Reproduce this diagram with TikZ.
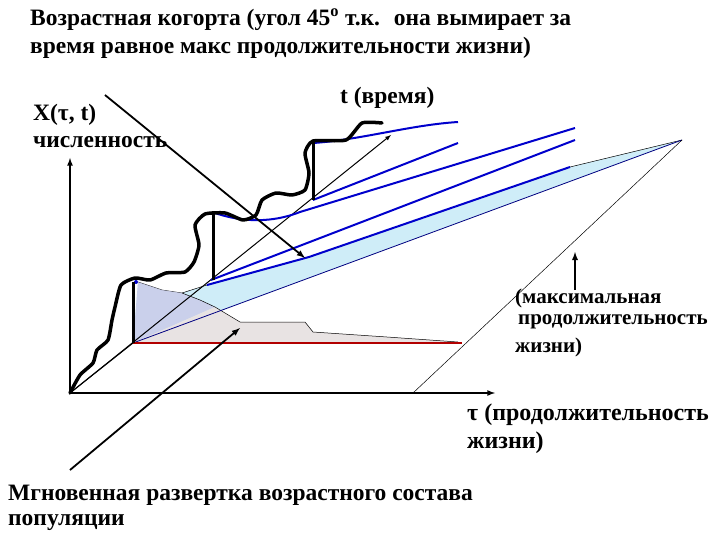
\documentclass[tikz,border=0pt]{standalone}
\usepackage{fontspec}
\setmainfont{Liberation Serif}
\begin{document}
\begin{tikzpicture}[x=1pt,y=-1pt,
  lbl/.style={font=\bfseries\fontsize{23.5}{26}\selectfont,anchor=west,inner sep=0pt},
  mid/.style={font=\bfseries\fontsize{21}{24}\selectfont,anchor=west,inner sep=0pt},
  big/.style={font=\bfseries\fontsize{24}{27}\selectfont,anchor=west,inner sep=0pt},
  ax/.style={line width=1.6pt,-latex},
  bl/.style={blue!80!black,line width=2pt}]
\useasboundingbox (0,0) rectangle (720,540);
\coordinate (O) at (70,393);
\coordinate (B) at (133,343);
\coordinate (T) at (682,140);
% light blue band
\fill[lightgray!30!cyan!25] (B) -- (138,282) -- (162,290) -- (182,293) -- (207,285) -- (309,257) -- (570,167) -- (T) -- cycle;
\draw[line width=0.5pt] (138,282) -- (162,290) -- (182,293) -- (207,285) -- (309,257) -- (570,167) -- (T);
% grey region
\fill[gray!60!blue!30,opacity=0.8] (B) -- (138,282) -- (162,290) -- (182,293) -- (200,300) -- (215,307) -- cycle;
% pink region
\fill[red!10!gray!20] (215,307) -- (240,322) -- (305,322) -- (313,332) -- (387,337) -- (458,342) -- (B) -- cycle;
\draw[line width=0.5pt] (182,293) -- (200,300) -- (215,307) -- (240,322) -- (305,322) -- (313,332) -- (387,337) -- (458,342);
\draw[line width=0.8pt,blue!50!black] (B) -- (T);
\draw[red!70!black,line width=2pt] (B) -- (462,343);
% skew line
\draw[line width=0.5pt] (413,393) -- (T);
% axes
\draw[ax] (O) -- (495,393);
\draw[ax] (O) -- (70,158);
\draw[line width=1pt,-latex] (O) -- (391,135);
\draw[line width=1pt] (O) -- (B);
% blue curves
\draw[bl] (313,143) .. controls (360,140) and (410,125) .. (458,122);
\draw[bl] (313,200) -- (458,143);
\draw[bl] (215,213) .. controls (250,225) and (280,220) .. (300,212) -- (575,128);
\draw[bl] (211,280) -- (575,140);
\draw[bl] (207,285) -- (309,257) -- (570,167);
\fill[blue!80!black] (136,282) circle (2pt);
% black wavy curve
\draw[line width=3.5pt,line join=round,line cap=round] plot[smooth,tension=0.35] coordinates {(70,393) (80,375) (93,363) (97,350) (108,340) (112,320) (115,307) (121,285) (135,278) (150,280) (166,273) (185,272) (194,262) (199,245) (195,225) (205,214) (225,213) (243,220) (256,215) (262,200) (276,193) (292,195) (305,190) (309,173) (305,153) (313,141) (346,140) (362,123) (382,123)};
\draw[line width=3pt] (133,282) -- (B);
\draw[line width=3pt] (213,213) -- (213,280);
\draw[line width=3pt] (313,140) -- (313,200);
% arrows
\coordinate (a1) at (105,95); \coordinate (a1e) at (305,258);
\draw[line width=1.8pt,-latex] (a1) -- (a1e);
\coordinate (a2) at (70,470); \coordinate (a2e) at (240,328);
\draw[line width=1.8pt,-latex] (a2) -- (a2e);
\coordinate (a3) at (575,290); \coordinate (a3e) at (575,252);
\draw[line width=1.8pt,-latex] (a3) -- (a3e);
% texts
\node[lbl] (t1) at (30,20) {Возрастная когорта (угол 45\textsuperscript{о} т.к. \ она вымирает за};
\node[lbl] (t2) at (30,48) {время равное макс продолжительности жизни)};
\node[lbl] (x1) at (33,115) {Х(τ, t)};
\node[lbl] (x2) at (33,142) {численность};
\node[lbl] (tt) at (340,98) {t (время)};
\node[mid] (m1) at (515,298) {(максимальная};
\node[mid] (m2) at (518,322) {продолжительность};
\node[mid] (m3) at (515,347) {жизни)};
\node[big] (p1) at (467,415) {τ (продолжительность};
\node[big] (p2) at (467,443) {жизни)};
\node[lbl] (g1) at (8,495) {Мгновенная развертка возрастного состава};
\node[lbl] (g2) at (8,522) {популяции};
\end{tikzpicture}
\end{document}
